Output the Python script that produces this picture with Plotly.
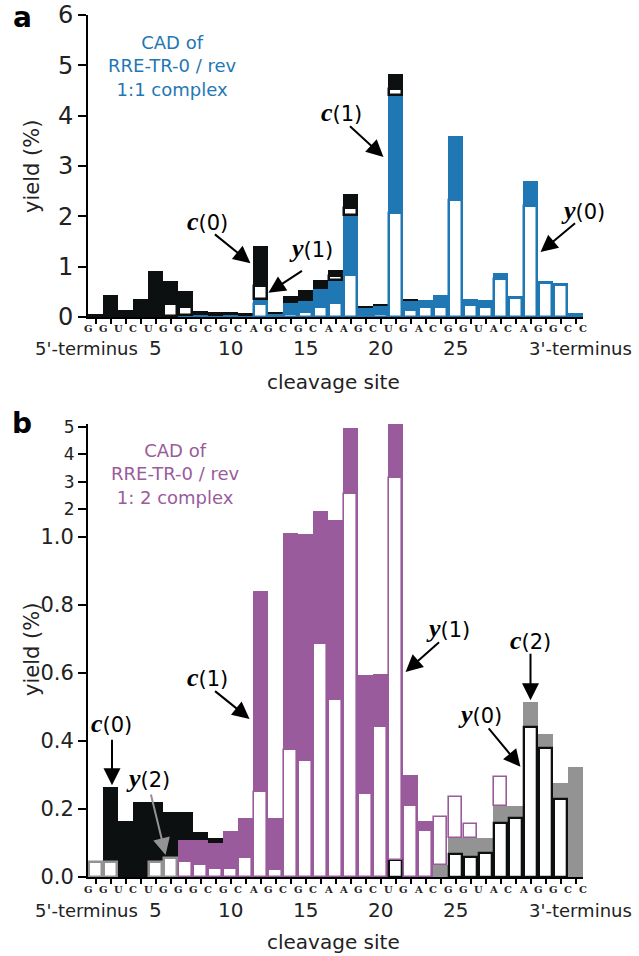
import plotly.graph_objects as go

W, H = 639, 956

# ---------------- data ----------------
sites = list(range(1, 34))                       # cleavage sites
sequence = list("GGUCUGGGCGCAGCGCAAGCUGACGGUACAGGCC")  # 34 nt
site_labels = [5, 10, 15, 20, 25]

# panel a : 1:1 complex  (yield %)
a_c1 = [0, 0, 0, 0, 0, 0.02, 0.03, 0.03, 0.02, 0.03, 0.02, 0.35, 0.05, 0.28, 0.31, 0.56, 0.74,
        2.03, 0.19, 0.22, 4.41, 0.33, 0.33, 0.43, 3.60, 0.35, 0.33, 0.87, 0.42, 2.70, 0.72, 0.68, 0.07]
a_c0 = [0.05, 0.44, 0.14, 0.36, 0.91, 0.69, 0.49, 0.09, 0.07, 0.06, 0.05, 1.06, 0.04, 0.14, 0.23, 0.18, 0.19,
        0.41, 0.03, 0.03, 0.42, 0.02, 0, 0, 0, 0, 0, 0, 0, 0, 0, 0, 0]
a_y1 = [0, 0, 0, 0, 0, 0, 0, 0, 0, 0, 0, 0.25, 0, 0.06, 0.10, 0.20, 0.28,
        0.83, 0, 0.05, 2.06, 0.13, 0.20, 0.20, 2.32, 0.23, 0.20, 0.75, 0.38, 2.21, 0.67, 0.63, 0]
a_y0 = [0, 0, 0, 0, 0, 0.23, 0.17, 0, 0, 0, 0, 0.26, 0, 0, 0, 0, 0.08,
        0.14, 0, 0, 0.11, 0, 0, 0, 0, 0, 0, 0, 0, 0, 0, 0, 0]

# panel b : 1:2 complex  (yield %)
b_c0 = [0, 0.265, 0.165, 0.222, 0.222, 0.19, 0.08, 0.023, 0.015, 0, 0, 0, 0, 0, 0, 0, 0,
        0, 0, 0, 0, 0, 0, 0, 0, 0, 0, 0, 0, 0, 0, 0, 0]
b_c1 = [0, 0, 0, 0, 0, 0, 0.11, 0.11, 0.10, 0.136, 0.173, 0.84, 0.173, 1.13, 1.10, 1.96, 1.62,
        4.97, 0.594, 0.597, 5.10, 0.30, 0.166, 0, 0, 0, 0, 0, 0, 0, 0, 0, 0]
b_c2 = [0, 0, 0, 0, 0, 0, 0, 0, 0, 0, 0, 0, 0, 0, 0, 0, 0,
        0, 0, 0, 0, 0, 0, 0.035, 0.114, 0.114, 0.114, 0.209, 0.209, 0.516, 0.42, 0.277, 0.324]
b_y0 = [0, 0, 0, 0, 0, 0, 0, 0, 0, 0, 0, 0, 0, 0, 0, 0, 0,
        0, 0, 0, 0.05, 0, 0, 0, 0.067, 0.06, 0.07, 0.16, 0.173, 0.44, 0.378, 0.23, 0]
b_y1 = [0, 0, 0, 0, 0, 0, 0.045, 0.035, 0.025, 0.025, 0.055, 0.25, 0.02, 0.375, 0.34, 0.685, 0.52,
        2.56, 0.245, 0.44, 3.10, 0.21, 0.135, 0.142, 0.122, 0.042, 0, 0.084, 0, 0, 0, 0, 0]
b_y2 = [0.045, 0.045, 0, 0, 0.045, 0.056, 0, 0, 0, 0, 0, 0, 0, 0, 0, 0, 0,
        0, 0, 0, 0, 0, 0, 0, 0, 0, 0, 0, 0, 0, 0, 0, 0]

a_yticks = [0, 1, 2, 3, 4, 5, 6]
b_low_ticks = [0.0, 0.2, 0.4, 0.6, 0.8, 1.0]
b_up_ticks = [2, 3, 4, 5]

# ---------------- styles ----------------
BLUE = "#1f77b4"
BLACK = "#0d1010"
PURPLE = "#9a5b9c"
GRAY = "#939393"
FONT = "DejaVu Sans"


def nz(vals):
    return [v if v else None for v in vals]


def add(*arrs):
    return [sum(t) for t in zip(*arrs)]


def px(x):
    return x / W


def py(y):
    return 1 - y / H


fig = go.Figure()


def fill(vals, base, color, xa, ya):
    fig.add_trace(go.Bar(x=sites, y=nz(vals), base=base, width=1.0,
                         marker=dict(color=color, line=dict(width=0)),
                         xaxis=xa, yaxis=ya, showlegend=False, hoverinfo="skip"))


def box(vals, base, color, lw, xa, ya):
    fig.add_trace(go.Bar(x=sites, y=nz(vals), base=base, width=0.82,
                         marker=dict(color="white", line=dict(color=color, width=lw)),
                         xaxis=xa, yaxis=ya, showlegend=False, hoverinfo="skip"))


# panel a
fill(a_c1, 0, BLUE, "x", "y")
fill(a_c0, a_c1, BLACK, "x", "y")
box(a_y1, 0, BLUE, 2.5, "x", "y")
box(a_y0, a_c1, BLACK, 2.5, "x", "y")

# panel b (broken axis: same bars in lower and upper part)
b_y1_base = [max(u, v) for u, v in zip(b_y0, b_c2)]
for ya in ["y2", "y3"]:
    fill(b_c1, 0, PURPLE, "x2", ya)
    fill(b_c0, b_c1, BLACK, "x2", ya)
    fill(b_c2, add(b_c1, b_c0), GRAY, "x2", ya)
    box(b_y2, 0, GRAY, 2.5, "x2", ya)
    box(b_y0, 0, BLACK, 2.3, "x2", ya)
    box(b_y1, b_y1_base, PURPLE, 1.6, "x2", ya)

xdom = [px(88), px(583)]
xcommon = dict(domain=xdom, range=[0.5, 33.5], showline=True, linecolor="black", linewidth=2,
               ticks="outside", tickvals=sites, ticklen=5, tickwidth=1.5, tickcolor="black",
               showticklabels=False, showgrid=False, zeroline=False, fixedrange=True, automargin=False)
ycommon = dict(showline=True, linecolor="black", linewidth=2, ticks="outside", ticklen=8,
               tickwidth=2, tickcolor="black", showgrid=False, zeroline=False, automargin=False,
               tickfont=dict(family=FONT, size=24, color="#222"))

fig.update_layout(
    template="none",
    width=W, height=H, autosize=False, margin=dict(l=0, r=0, t=0, b=0, pad=0),
    paper_bgcolor="white", plot_bgcolor="white", barmode="overlay", bargap=0,
    font=dict(family=FONT, color="#222"),
    xaxis=dict(anchor="y", **xcommon),
    yaxis=dict(anchor="x", domain=[py(317), py(15)], range=[0, 6], tickvals=a_yticks, **ycommon),
    xaxis2=dict(anchor="y2", **xcommon),
    yaxis2=dict(anchor="x2", domain=[py(877), py(537)], range=[0, 1.0], tickvals=b_low_ticks,
                ticktext=[f"{v:.1f}" for v in b_low_ticks],
                **{**ycommon, "tickfont": dict(family=FONT, size=21, color="#222")}),
    yaxis3=dict(anchor="x2", domain=[py(537), py(424)], range=[1, 5.1], tickvals=b_up_ticks,
                **{**ycommon, "tickfont": dict(family=FONT, size=17, color="#222")}),
)

ann = []


def text(x, y, s, size=18, color="#222", angle=0, bold=False):
    ann.append(dict(x=px(x), y=py(y), xref="paper", yref="paper", text=(f"<b>{s}</b>" if bold else s),
                    showarrow=False, xanchor="center", yanchor="middle", textangle=angle,
                    font=dict(family=FONT, size=size, color=color)))


# panel letters and titles
text(22, 17, "a", 28, "black", bold=True)
text(22, 424, "b", 28, "black", bold=True)
text(172, 66, "CAD of<br>RRE-TR-0 / rev<br>1:1 complex", 18, BLUE)
text(175, 474, "CAD of<br>RRE-TR-0 / rev<br>1: 2 complex", 18, PURPLE)
for yc in (167, 650):
    text(32, yc, "yield (%)", 21, angle=-90)

# x-axis decorations
for xa, ylet, ynum, ytitle in (("x", 328, 348, 382), ("x2", 889, 910, 942)):
    for i, ch in enumerate(sequence):
        ann.append(dict(x=i + 0.5, y=py(ylet), xref=xa, yref="paper", text=f"<b>{ch}</b>",
                        showarrow=False, xanchor="center", yanchor="middle",
                        font=dict(family="DejaVu Serif", size=10, color="#222")))
    for s in site_labels:
        ann.append(dict(x=s, y=py(ynum), xref=xa, yref="paper", text=str(s), showarrow=False,
                        xanchor="center", yanchor="middle", font=dict(family=FONT, size=20, color="#222")))
    text(86, ynum, "5'-terminus", 18)
    text(580, ynum, "3'-terminus", 18)
    text(333, ytitle, "cleavage site", 20)


def frag(letter, n):
    return (f"<span style='font-family:Liberation Serif;font-size:26px'><b><i>{letter}</i></b></span>"
            f"({n})")


def label(x, y, letter, n):
    text(x, y, frag(letter, n), 21, "black")


def arrow(xa, ya, x, y, ax, ay, color="black"):
    ann.append(dict(x=x, y=y, xref=xa, yref=ya, ax=ax, ay=ay, axref="pixel", ayref="pixel",
                    text="", showarrow=True, arrowhead=2, arrowsize=1.7, arrowwidth=2,
                    arrowcolor=color, standoff=0))


# panel a fragment labels
label(207, 222, "c", 0); arrow("x", "y", 11.33, 1.07, -37, -30)
label(311, 248, "y", 1); arrow("x", "y", 12.53, 0.48, 35, -23)
label(342, 113, "c", 1); arrow("x", "y", 20.2, 3.18, -35, -32)
label(583, 210, "y", 0); arrow("x", "y", 30.67, 1.29, 36, -30)

# panel b fragment labels
label(111, 723, "c", 0); arrow("x2", "y2", 2.1, 0.27, 0, -47)
label(148, 778, "y", 2); arrow("x2", "y2", 5.67, 0.065, -15, -62, GRAY)
label(207, 677, "c", 1); arrow("x2", "y2", 11.27, 0.465, -36, -29)
label(448, 628, "y", 1); arrow("x2", "y2", 21.67, 0.603, 35, -31)
label(530, 640, "c", 2); arrow("x2", "y2", 30.0, 0.52, 0, -48)
label(480, 714, "y", 0); arrow("x2", "y2", 29.33, 0.324, -33, -40)

fig.update_layout(annotations=ann)
fig.write_html("out.html")
